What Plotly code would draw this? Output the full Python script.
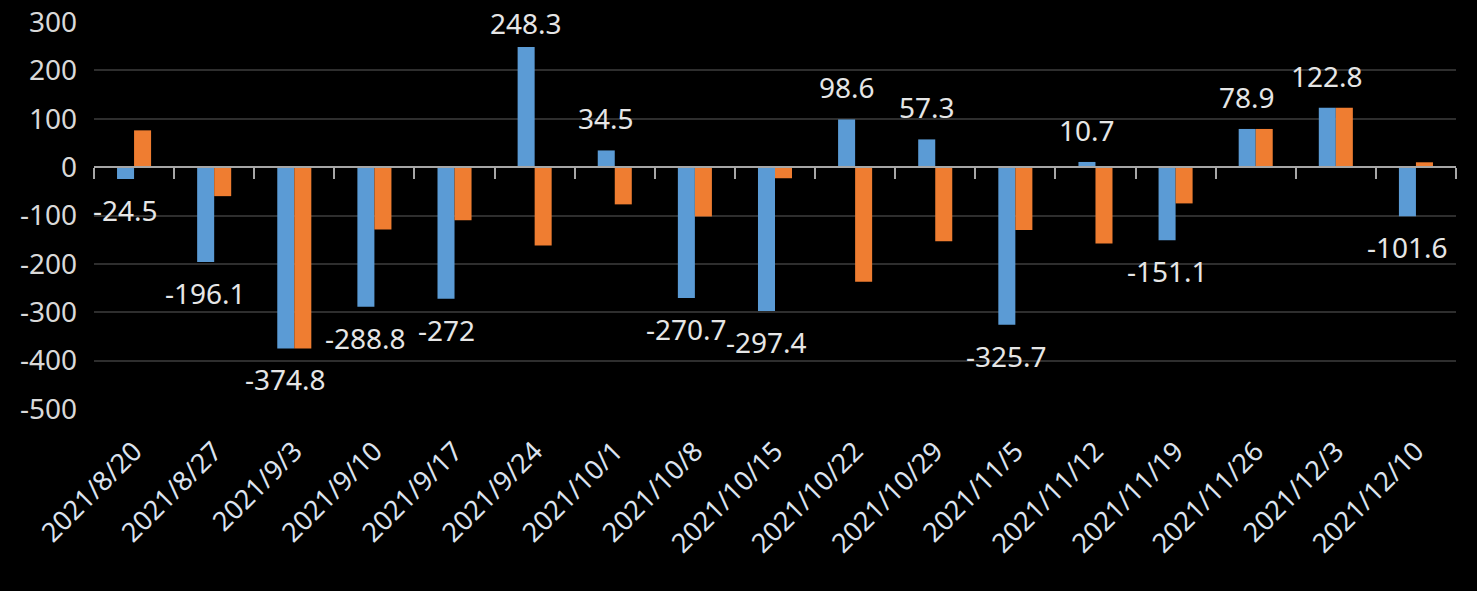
import plotly.graph_objects as go

dates = ["2021/8/20", "2021/8/27", "2021/9/3", "2021/9/10", "2021/9/17", "2021/9/24",
         "2021/10/1", "2021/10/8", "2021/10/15", "2021/10/22", "2021/10/29", "2021/11/5",
         "2021/11/12", "2021/11/19", "2021/11/26", "2021/12/3", "2021/12/10"]
blue_vals = [-24.5, -196.1, -374.8, -288.8, -272, 248.3, 34.5, -270.7, -297.4, 98.6,
             57.3, -325.7, 10.7, -151.1, 78.9, 122.8, -101.6]
orange_vals = [76, -60, -374.8, -129, -110, -162, -77, -102, -23, -237,
               -153, -130, -158, -75, 78.9, 122.8, 10]
y_ticks = [300, 200, 100, 0, -100, -200, -300, -400, -500]

W, H = 1477, 591
ML, MR, MT, MB = 94, 21, 22, 182
BARGAP = 0.575
FONT = "Noto Sans"
LABEL_SIZE = 28

ymin, ymax = -500, 300
plot_h = H - MT - MB

fig = go.Figure()
fig.add_trace(go.Bar(x=dates, y=blue_vals, marker=dict(color="#5b9bd5", line=dict(width=0)),
                     showlegend=False, hoverinfo="x+y"))
fig.add_trace(go.Bar(x=dates, y=orange_vals, marker=dict(color="#ef7d31", line=dict(width=0)),
                     showlegend=False, hoverinfo="x+y"))
# invisible helper trace for the zero-line axis with boundary ticks
fig.add_trace(go.Scatter(x=dates, y=blue_vals, xaxis="x2", mode="markers",
                         marker=dict(opacity=0), showlegend=False, hoverinfo="skip"))

cat_w = (W - ML - MR) / len(dates)
bar_w = cat_w * (1 - BARGAP) / 2
for d, v in zip(dates, blue_vals):
    if v >= 0:
        bar_top_px = MT + (ymax - v) / (ymax - ymin) * plot_h
        # keep the label inside the page, like the chart's own label placement
        shift = min(11, bar_top_px - 40 - 4)
        anchor = "bottom"
    else:
        shift = -10
        anchor = "top"
    fig.add_annotation(x=d, y=v, xref="x", yref="y", text=f"{v:g}",
                       showarrow=False, xshift=-bar_w / 2,
                       yanchor=anchor, yshift=shift,
                       font=dict(family=FONT, size=LABEL_SIZE, color="#e6e6e6"))

fig.update_layout(
    width=W, height=H,
    margin=dict(l=ML, r=MR, t=MT, b=MB, autoexpand=False),
    paper_bgcolor="black", plot_bgcolor="black",
    barmode="group", bargap=BARGAP, bargroupgap=0,
    font=dict(family=FONT, color="#d9d9d9"),
    xaxis=dict(type="category", categoryarray=dates, range=[-0.5, len(dates) - 0.5],
               tickangle=-45, tickfont=dict(family=FONT, size=27, color="#dce3ef"),
               showgrid=False, showline=False, ticks="", zeroline=False,
               ticklabelstandoff=20, automargin=False),
    xaxis2=dict(type="category", categoryarray=dates, range=[-0.5, len(dates) - 0.5],
                overlaying="x", anchor="free", side="bottom",
                position=(0 - ymin) / (ymax - ymin),
                showticklabels=False, showline=True, linecolor="#a6a6a6", linewidth=2,
                ticks="outside", tickson="boundaries", ticklen=11, tickcolor="#a6a6a6",
                tickwidth=2, showgrid=False, zeroline=False),
    yaxis=dict(range=[ymin, ymax], tickvals=y_ticks, ticktext=[str(t) for t in y_ticks],
               tickfont=dict(family=FONT, size=28, color="#d9d9d9"),
               showgrid=True, gridcolor="#2e2e2e", gridwidth=2, zeroline=False,
               ticks="", ticklabelstandoff=16, automargin=False),
)

fig.write_html("out.html", config={"displayModeBar": False},
               post_script="document.body.style.margin='0';document.body.style.background='black';")
